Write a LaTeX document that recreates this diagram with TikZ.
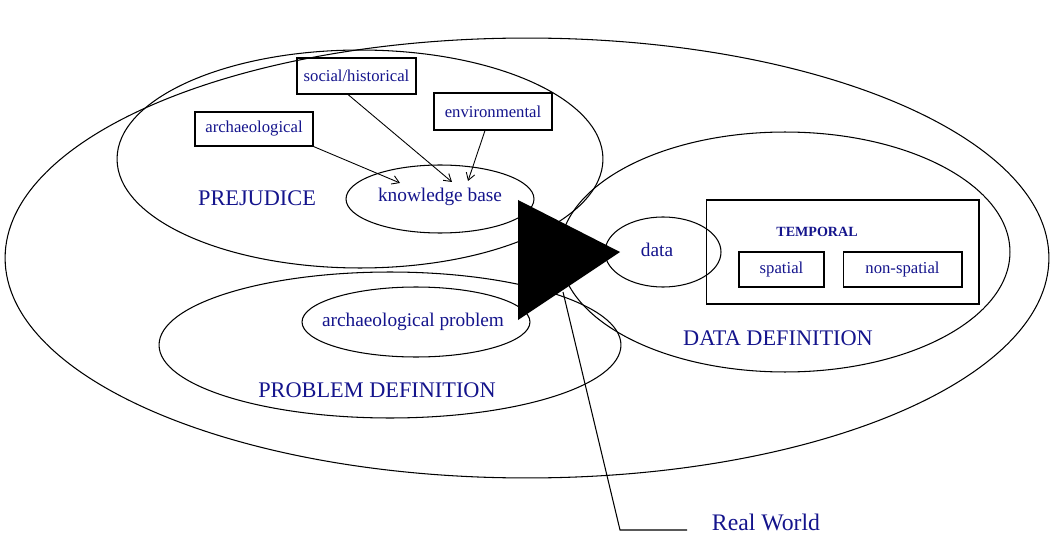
\documentclass[tikz,border=0pt]{standalone}
\usepackage{fontspec}
\setmainfont{Liberation Serif}
\usetikzlibrary{shapes.geometric,arrows.meta}
\definecolor{txtblue}{RGB}{20,20,140}
\begin{document}
\begin{tikzpicture}[x=0.02cm,y=-0.02cm,
  line width=0.6pt,
  ell/.style={draw,ellipse,inner sep=0pt},
  lbl/.style={text=txtblue,inner sep=0pt,font=\fontsize{11}{12}\selectfont},
  biglbl/.style={text=txtblue,inner sep=0pt,font=\fontsize{12.7}{14}\selectfont},
  smallbox/.style={draw,rectangle,inner sep=0pt,text=txtblue,font=\fontsize{9.5}{11}\selectfont},
  arr/.style={-{Straight Barb[length=4pt,width=5pt]},line width=0.5pt}]
\useasboundingbox (0,0) rectangle (1053,533);
% ellipses
\node[ell,minimum width=20.88cm,minimum height=8.8cm] (outer) at (527,258) {};
\node[ell,minimum width=9.72cm,minimum height=4.36cm] (prej) at (360,159) {};
\node[ell,minimum width=3.76cm,minimum height=1.36cm] (kb) at (440,199) {};
\node[ell,minimum width=9.0cm,minimum height=4.8cm] (ddef) at (785,252) {};
\node[ell,minimum width=2.32cm,minimum height=1.4cm] (data) at (663,252) {};
\node[ell,minimum width=9.24cm,minimum height=2.92cm] (pdef) at (390,345) {};
\node[ell,minimum width=4.56cm,minimum height=1.4cm] (aprob) at (416,322) {};
% ellipse texts
\node[lbl] (kbt) at (440,197) {knowledge base};
\node[lbl] (datat) at (657,250) {data};
\node[lbl] (aprobt) at (413,322) {archaeological problem};
\node[biglbl] (prejt) at (257,198) {PREJUDICE};
\node[biglbl] (ddeft) at (778,338) {DATA DEFINITION};
\node[biglbl] (pdeft) at (377,390) {PROBLEM DEFINITION};
% boxes
\node[smallbox,minimum width=2.38cm,minimum height=0.72cm] (soc) at (356.5,76) {social/historical};
\node[smallbox,minimum width=2.36cm,minimum height=0.68cm] (arch) at (254,129) {archaeological};
\node[smallbox,minimum width=2.36cm,minimum height=0.74cm] (env) at (493,111.5) {environmental};
\node[draw,rectangle,minimum width=5.46cm,minimum height=2.08cm,inner sep=0pt] (temp) at (842.5,252) {};
\node[text=txtblue,inner sep=0pt,font=\bfseries\fontsize{8}{10}\selectfont] (tempt) at (817,232) {TEMPORAL};
\node[smallbox,minimum width=1.7cm,minimum height=0.7cm] (spat) at (781.5,269.5) {spatial};
\node[smallbox,minimum width=2.38cm,minimum height=0.7cm] (nspat) at (902.5,269.5) {non-spatial};
% arrows into knowledge base
\coordinate (kbA) at (400,183);
\coordinate (kbB) at (452,182);
\coordinate (kbC) at (468,181);
\draw[arr] (arch.south east) -- (kbA);
\draw[arr] ([xshift=-0.17cm]soc.south) -- (kbB);
\draw[arr] ([xshift=-0.16cm]env.south) -- (kbC);
% triangle
\coordinate (t1) at (518,200);
\coordinate (t2) at (518,320);
\coordinate (t3) at (620,252);
\fill (t1) -- (t2) -- (t3) -- cycle;
% real world
\coordinate (rw0) at (563,292);
\coordinate (rw1) at (620,530);
\coordinate (rw2) at (687,530);
\draw (rw0) -- (rw1) -- (rw2);
\node[text=txtblue,inner sep=0pt,font=\fontsize{13.5}{15}\selectfont] (rwt) at (766,522) {Real World};
\end{tikzpicture}
\end{document}
